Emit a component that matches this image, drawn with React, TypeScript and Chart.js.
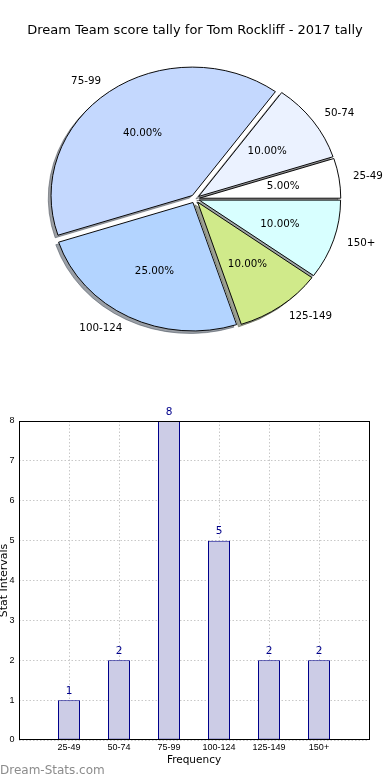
import React, { useEffect, useRef } from 'react';
import { Chart, registerables } from 'chart.js';

Chart.register(...registerables);

// ---------- data ----------
const TITLE = 'Dream Team score tally for Tom Rockliff - 2017 tally';
const categories = ['25-49', '50-74', '75-99', '100-124', '125-149', '150+'];
const counts = [1, 2, 8, 5, 2, 2];
const pieColors = ['#ffffff', '#ebf2ff', '#c4d8fe', '#b3d4ff', '#d0ea8a', '#d8ffff'];
const yTickMin = 0;
const yTickMax = 8;
const X_TITLE = 'Frequency';
const Y_TITLE = 'Stat Intervals';
const WATERMARK = 'Dream-Stats.com';

// ---------- pie styling ----------
const PIE_R = 141.3;
const Y_SQUASH = 0.909;
const EXPLODE = 4.5;
const SHADOW = 2.8;
const PIE_FONT = '10.3px "DejaVu Sans"';

function shadowOf(hex: string): string {
  const h = hex.replace('#', '');
  const r = parseInt(h.slice(0, 2), 16) * 0.3;
  const g = parseInt(h.slice(2, 4), 16) * 0.3;
  const b = parseInt(h.slice(4, 6), 16) * 0.3;
  return `rgba(${Math.round(r)},${Math.round(g)},${Math.round(b)},0.5)`;
}

const piePlugin = {
  id: 'mplPie',
  beforeDatasetsDraw(chart: any) {
    const meta = chart.getDatasetMeta(0);
    const arcs = meta.data as any[];
    if (!arcs.length) return;
    const ctx = chart.ctx as CanvasRenderingContext2D;
    const cx = arcs[0].x;
    const cy = arcs[0].y;
    ctx.save();
    ctx.translate(cx, cy);
    ctx.scale(1, Y_SQUASH);
    ctx.translate(-cx, -cy);
    // shadows
    arcs.forEach((arc) => {
      const mid = (arc.startAngle + arc.endAngle) / 2;
      const ox = arc.x + Math.cos(mid) * EXPLODE - SHADOW;
      const oy = arc.y + Math.sin(mid) * EXPLODE + SHADOW;
      const col = shadowOf(arc.options.backgroundColor);
      ctx.beginPath();
      ctx.moveTo(ox, oy);
      ctx.arc(ox, oy, arc.outerRadius, arc.startAngle, arc.endAngle);
      ctx.closePath();
      ctx.fillStyle = col;
      ctx.fill();
      ctx.lineWidth = 1;
      ctx.strokeStyle = col;
      ctx.stroke();
    });
    // wedges (exploded)
    arcs.forEach((arc) => {
      const mid = (arc.startAngle + arc.endAngle) / 2;
      ctx.save();
      ctx.translate(Math.cos(mid) * EXPLODE, Math.sin(mid) * EXPLODE);
      arc.draw(ctx);
      ctx.restore();
    });
    ctx.restore();
    return false;
  },
  afterDraw(chart: any) {
    const meta = chart.getDatasetMeta(0);
    const arcs = meta.data as any[];
    const values = chart.data.datasets[0].data as number[];
    const labels = chart.data.labels as string[];
    const total = values.reduce((a, b) => a + b, 0);
    const ctx = chart.ctx as CanvasRenderingContext2D;
    ctx.save();
    ctx.font = PIE_FONT;
    ctx.fillStyle = '#000';
    ctx.textBaseline = 'middle';
    arcs.forEach((arc, i) => {
      const mid = (arc.startAngle + arc.endAngle) / 2;
      const c = Math.cos(mid);
      const s = Math.sin(mid);
      const ex = arc.x + c * EXPLODE;
      const ey = arc.y + s * EXPLODE * Y_SQUASH;
      const R = arc.outerRadius;
      ctx.textAlign = 'center';
      ctx.fillText(((values[i] / total) * 100).toFixed(2) + '%', ex + c * 0.6 * R, ey + s * 0.6 * R * Y_SQUASH);
      ctx.textAlign = c > 0 ? 'left' : 'right';
      ctx.fillText(labels[i], ex + c * 1.1 * R, ey + s * 1.1 * R * Y_SQUASH);
    });
    ctx.restore();
  },
};

const barPlugin = {
  id: 'barExtras',
  afterDatasetsDraw(chart: any) {
    const meta = chart.getDatasetMeta(0);
    const ctx = chart.ctx as CanvasRenderingContext2D;
    ctx.save();
    ctx.font = '10.5px "DejaVu Sans"';
    ctx.fillStyle = '#00008b';
    ctx.textAlign = 'center';
    ctx.textBaseline = 'middle';
    meta.data.forEach((bar: any, i: number) => {
      ctx.fillText(String(counts[i]), bar.x, bar.y - 9);
    });
    ctx.restore();
  },
  afterDraw(chart: any) {
    const { left, top, right, bottom } = chart.chartArea;
    const ctx = chart.ctx as CanvasRenderingContext2D;
    ctx.save();
    ctx.strokeStyle = '#000';
    ctx.lineWidth = 1;
    ctx.strokeRect(left + 0.5, top + 0.5, right - left, bottom - top - 1);
    ctx.restore();
  },
};

function PieChart() {
  const ref = useRef<HTMLCanvasElement>(null);
  useEffect(() => {
    if (!ref.current) return;
    const chart = new Chart(ref.current, {
      type: 'pie',
      data: {
        labels: [...categories].reverse(),
        datasets: [
          {
            data: [...counts].reverse(),
            backgroundColor: [...pieColors].reverse(),
            borderColor: '#000',
            borderWidth: 1,
          },
        ],
      },
      options: {
        animation: false,
        responsive: false,
        rotation: 90,
        radius: PIE_R,
        layout: { padding: { top: 0, bottom: 10.4, left: 0, right: 0 } },
        plugins: {
          legend: { display: false },
          tooltip: { enabled: false },
          title: {
            display: true,
            text: TITLE,
            color: '#000',
            font: { family: 'DejaVu Sans', size: 13, weight: 'normal' },
            padding: { top: 22.5, bottom: 10 },
          },
        },
      } as any,
      plugins: [piePlugin as any],
    });
    return () => chart.destroy();
  }, []);
  return (
    <canvas
      ref={ref}
      width={390}
      height={360}
      style={{ position: 'absolute', left: 0, top: 0, width: 390, height: 360 }}
    />
  );
}

function BarChart() {
  const ref = useRef<HTMLCanvasElement>(null);
  useEffect(() => {
    if (!ref.current) return;
    const gridCommon = { color: '#c8c8c8', lineWidth: 1, drawTicks: false, offset: false };
    const chart = new Chart(ref.current, {
      type: 'bar',
      data: {
        datasets: [
          {
            data: categories.map((c, i) => ({ x: i + 1, y: counts[i] })),
            backgroundColor: '#ccccE6',
            borderColor: '#00008b',
            borderWidth: 1,
            borderSkipped: false,
            barPercentage: 0.44,
            categoryPercentage: 1,
          },
        ],
      },
      options: {
        animation: false,
        responsive: false,
        layout: { padding: { left: 0, right: 21, top: 21, bottom: 0 } },
        plugins: { legend: { display: false }, tooltip: { enabled: false } },
        scales: {
          x: {
            type: 'linear',
            min: 0,
            max: categories.length + 1,
            offset: false,
            z: 1,
            afterFit: (s: any) => {
              s.height = 40;
            },
            grid: gridCommon,
            border: { display: false, dash: [1.5, 2] },
            ticks: {
              stepSize: 1,
              autoSkip: false,
              maxRotation: 0,
              padding: 2.5,
              color: '#000',
              font: { family: 'Liberation Sans', size: 9 },
              callback: (v: any) => categories[Number(v) - 1] ?? '',
            },
            title: {
              display: true,
              text: X_TITLE,
              color: '#000',
              font: { family: 'DejaVu Sans', size: 10.5 },
              padding: { top: 0, bottom: 13.4 },
            },
          },
          y: {
            min: yTickMin,
            max: yTickMax,
            z: 1,
            afterFit: (s: any) => {
              s.width = 19;
            },
            grid: gridCommon,
            border: { display: false, dash: [1.5, 2] },
            ticks: {
              stepSize: 1,
              padding: 4.4,
              color: '#000',
              font: { family: 'Liberation Sans', size: 9 },
            },
            title: {
              display: true,
              text: Y_TITLE,
              color: '#000',
              font: { family: 'DejaVu Sans', size: 11, lineHeight: 0.73 },
              padding: 0,
            },
          },
        },
      } as any,
      plugins: [barPlugin as any],
    });
    return () => chart.destroy();
  }, []);
  return (
    <canvas
      ref={ref}
      width={390}
      height={380}
      style={{ position: 'absolute', left: 0, top: 400, width: 390, height: 380 }}
    />
  );
}

export default function App() {
  return (
    <div style={{ position: 'absolute', left: 0, top: 0, width: 390, height: 780, background: '#fff', overflow: 'hidden' }}>
      <PieChart />
      <BarChart />
      <div
        style={{
          position: 'absolute',
          left: 0,
          top: 763,
          font: '12px "DejaVu Sans"',
          lineHeight: '14px',
          color: '#8c8c8c',
          whiteSpace: 'nowrap',
        }}
      >
        {WATERMARK}
      </div>
    </div>
  );
}
